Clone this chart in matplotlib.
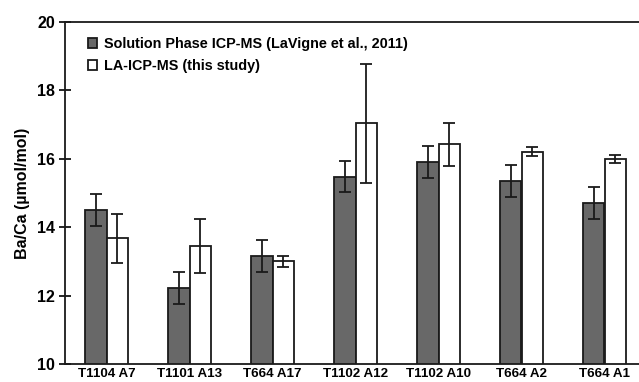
import numpy as np
import matplotlib
matplotlib.use("Agg")
import matplotlib.pyplot as plt

# ==========================================
# DATA
# ==========================================

samples = [
    "T1104 A7", "T1101 A13", "T664 A17", "T1102 A12",
    "T1102 A10", "T664 A2", "T664 A1"
]

solution_vals = [14.50, 12.23, 13.17, 15.48, 15.91, 15.35, 14.70]
solution_err = [0.47, 0.47, 0.47, 0.46, 0.47, 0.47, 0.47]

laser_vals = [13.68, 13.46, 13.00, 17.04, 16.42, 16.21, 15.99]
laser_err = [0.72, 0.79, 0.17, 1.74, 0.62, 0.14, 0.12]

series_names = [
    "Solution Phase ICP-MS (LaVigne et al., 2011)",
    "LA-ICP-MS (this study)"
]

y_ticks = [10, 12, 14, 16, 18, 20]

# ==========================================
# FIGURE
# ==========================================

plt.rcParams["font.family"] = ["Liberation Sans", "DejaVu Sans"]
plt.rcParams["font.weight"] = "bold"

fig = plt.figure(figsize=(6.39, 3.82), dpi=100)
ax = fig.add_axes([65 / 639, 18 / 382, 581 / 639, 342 / 382])

x = np.arange(len(samples))
width = 0.265

ax.bar(
    x - width / 2, solution_vals, width,
    yerr=solution_err, color="#686868", edgecolor="#1a1a1a",
    linewidth=1.3, capsize=4,
    error_kw=dict(elinewidth=1.3, capthick=1.3, ecolor="#1a1a1a"),
    label=series_names[0]
)

ax.bar(
    x + width / 2, laser_vals, width,
    yerr=laser_err, color="white", edgecolor="#1a1a1a",
    linewidth=1.3, capsize=4,
    error_kw=dict(elinewidth=1.3, capthick=1.3, ecolor="#1a1a1a"),
    label=series_names[1]
)

ax.set_xlim(-0.5, 6.5)
ax.set_ylim(10, 20)
ax.set_yticks(y_ticks)
ax.set_yticklabels([str(t) for t in y_ticks], fontsize=11.5, fontweight="bold")
ax.set_xticks(x)
ax.set_xticklabels(samples, fontsize=9.6, fontweight="bold")

ax.tick_params(axis="y", direction="inout", length=8, width=1.2, pad=3)
ax.tick_params(axis="x", length=0, pad=3)

for side in ["left", "bottom", "top"]:
    ax.spines[side].set_linewidth(1.3)
    ax.spines[side].set_color("#1a1a1a")
ax.spines["right"].set_visible(False)

ax.set_ylabel(
    "Ba/Ca (\u00b5mol/mol)",
    fontsize=11.5, fontweight="bold", labelpad=5
)

ax.legend(
    loc="upper left",
    bbox_to_anchor=(0.023, 0.985),
    frameon=False,
    prop=dict(size=10.4, weight="bold"),
    handlelength=0.62,
    handleheight=0.62,
    handletextpad=0.45,
    labelspacing=0.55,
    borderaxespad=0.3
)

fig.savefig("out.png", dpi=100)
plt.close(fig)
